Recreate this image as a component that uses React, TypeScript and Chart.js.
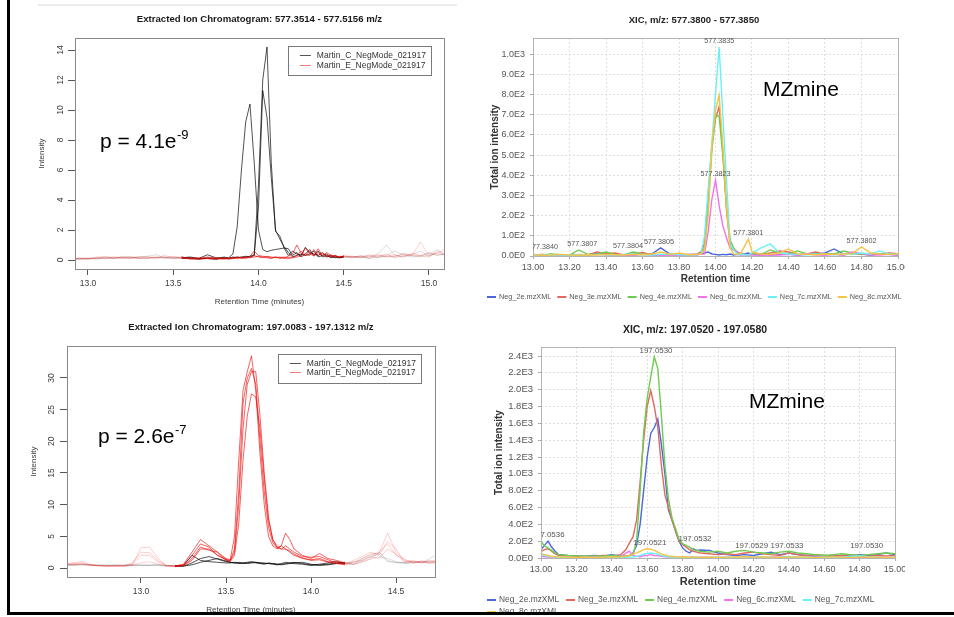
import React, { useEffect, useRef } from "react";
import { Chart, registerables } from "chart.js";

Chart.register(...registerables);

const FONT = "'Liberation Sans', Arial, Helvetica, sans-serif";
Chart.defaults.font.family = FONT;

// ---------------- Top-left: Extracted Ion Chromatogram 577 ----------------
const TL_TITLE = "Extracted Ion Chromatogram: 577.3514 - 577.5156 m/z";
const TL_TIME = [12.90,12.95,13.00,13.05,13.10,13.15,13.20,13.25,13.30,13.35,13.40,13.45,13.50,13.55,13.60,13.65,13.70,13.75,13.80,
  13.825,13.85,13.875,13.90,13.925,13.95,13.975,14.00,14.025,14.05,14.075,14.10,14.125,14.15,14.175,14.20,14.225,14.25,14.275,14.30,14.325,14.35,14.375,14.40,14.425,14.45,14.475,14.50,
  14.55,14.60,14.65,14.70,14.75,14.80,14.85,14.90,14.95,15.00,15.05,15.10];
const TL_C1 = [0.05,0.10,0.05,0.15,0.10,0.20,0.15,0.10,0.20,0.25,0.35,0.15,0.20,0.10,0.15,0.10,0.35,0.15,0.10,
  0.15,0.40,2.2,6.0,9.2,10.4,6.5,2.0,0.7,0.55,0.65,0.70,0.75,0.80,0.75,0.30,0.50,0.20,0.40,0.70,0.30,0.60,0.20,0.30,0.15,0.20,0.15,0.20,
  0.25,0.15,0.20,0.40,1.00,0.30,0.20,0.35,0.60,0.25,0.50,0.30];
const TL_C2 = [0.10,0.05,0.15,0.10,0.20,0.10,0.15,0.20,0.15,0.10,0.20,0.10,0.15,0.20,0.10,0.05,0.15,0.10,0.20,
  0.10,0.15,0.20,0.15,0.20,0.25,0.35,5.0,12.0,14.2,6.5,1.9,1.6,0.8,0.3,0.6,0.4,0.3,0.85,0.5,0.4,0.3,0.5,0.2,0.3,0.15,0.2,0.25,
  0.20,0.25,0.10,0.20,0.30,0.60,0.35,0.20,0.30,0.45,0.30,0.40];
const TL_C3 = [0.05,0.10,0.10,0.05,0.15,0.10,0.20,0.15,0.10,0.20,0.15,0.20,0.10,0.15,0.20,0.10,0.10,0.05,0.15,
  0.10,0.20,0.15,0.20,0.25,0.20,0.30,3.5,11.3,9.5,5.5,2.0,1.4,0.9,0.5,0.2,0.3,0.4,0.3,0.4,0.6,0.2,0.3,0.4,0.2,0.3,0.15,0.2,
  0.15,0.20,0.30,0.15,0.25,0.20,0.45,0.30,0.20,0.35,0.70,0.35];
const TL_E1 = [0.05,0.10,0.05,0.20,0.15,0.10,0.25,0.20,0.10,0.15,0.20,0.15,0.25,0.15,0.10,0.05,0.10,0.05,0.15,
  0.10,0.15,0.10,0.20,0.15,0.25,0.60,0.30,0.25,0.20,0.15,0.20,0.10,0.15,0.25,0.40,1.00,0.45,0.30,0.60,0.25,0.50,0.30,0.20,0.35,0.20,0.25,0.20,
  0.15,0.30,0.20,0.35,0.20,0.25,0.40,0.30,1.20,0.30,0.45,0.80];
const TL_E2 = [0.10,0.05,0.10,0.15,0.25,0.15,0.10,0.20,0.15,0.10,0.15,0.30,0.15,0.10,0.15,0.10,0.20,0.10,0.05,
  0.15,0.10,0.20,0.15,0.10,0.20,0.30,0.20,0.15,0.25,0.20,0.15,0.20,0.10,0.15,0.20,0.30,0.60,0.35,0.30,0.70,0.30,0.45,0.30,0.20,0.30,0.20,0.25,
  0.25,0.15,0.35,0.20,0.40,0.15,0.30,0.35,0.25,0.50,0.35,0.40];
const TL_E3 = [0.05,0.15,0.10,0.10,0.10,0.20,0.15,0.10,0.25,0.20,0.10,0.20,0.10,0.20,0.05,0.15,0.10,0.15,0.10,
  0.05,0.10,0.15,0.10,0.20,0.15,0.20,0.25,0.20,0.15,0.10,0.20,0.15,0.20,0.10,0.15,0.20,0.25,0.80,0.40,0.30,0.75,0.30,0.50,0.30,0.25,0.15,0.30,
  0.20,0.25,0.10,0.30,0.25,0.35,0.20,0.45,0.30,0.20,0.60,0.30];
const TL_XTICKS = [13.0, 13.5, 14.0, 14.5, 15.0];
const TL_YTICKS = [0, 2, 4, 6, 8, 10, 12, 14];
const TL_DARK = [13.55, 14.5];

// ---------------- Bottom-left: Extracted Ion Chromatogram 197 ----------------
const BL_TITLE = "Extracted Ion Chromatogram: 197.0083 - 197.1312 m/z";
const BL_TIME = [12.55,12.60,12.65,12.70,12.75,12.80,12.85,12.90,12.95,13.00,13.05,13.10,13.15,13.20,13.25,13.30,13.35,13.40,13.45,13.50,
  13.525,13.55,13.575,13.60,13.625,13.65,13.675,13.70,13.725,13.75,13.775,13.80,13.825,13.85,13.875,13.90,
  13.95,14.00,14.05,14.10,14.15,14.20,14.25,14.30,14.35,14.40,14.45,14.50,14.55,14.60,14.65,14.70,14.75];
const BL_E1 = [0.7,0.8,1.0,0.6,0.4,0.3,0.3,0.3,0.5,3.2,3.3,1.5,0.4,0.3,0.6,2.5,4.5,3.5,2.5,1.5,
  1.3,5,17,28,31,33.5,28,18,10,5,3.5,3,3.5,5.5,4.5,3,
  2,1.5,2.3,1.5,1.2,0.8,0.9,1.5,2.2,2.3,5.5,2.5,1.2,0.9,1.0,0.7,1.2];
const BL_E2 = [0.6,0.7,0.8,0.5,0.4,0.3,0.3,0.4,0.8,2.5,2.4,1.2,0.4,0.3,0.5,2.0,3.8,3.3,2.0,1.3,
  1.2,3,12,26,30,31.5,29,20,12,6.5,4,3.2,3,3.5,3,2.5,
  1.8,1.7,1.8,1.3,0.8,0.6,1.2,1.8,2.5,2.0,4.2,3.0,1.0,1.2,0.8,1.0,0.9];
const BL_E3 = [0.5,0.6,0.7,0.5,0.3,0.3,0.4,0.3,0.6,2.0,2.0,1.0,0.3,0.3,0.4,1.5,3.3,2.8,2.5,1.2,
  1.1,2.5,10,22,29,31,31,24,15,8,4.5,3.5,3,3,2.5,2,
  1.5,1.3,1.5,1.0,1.0,0.7,0.6,1.0,1.5,2.5,3.8,2.0,1.4,0.8,1.1,0.8,0.7];
const BL_E4 = [0.6,0.5,0.6,0.4,0.4,0.3,0.3,0.3,0.4,0.8,1.0,0.6,0.3,0.2,0.4,1.2,3.0,3.0,2.0,1.4,
  1.0,2,7,17,24,27.5,27,22,14,7.5,4.5,3.2,3.5,3,2.7,2.2,
  1.6,1.2,1.3,0.9,0.7,0.5,0.8,1.2,1.8,1.5,3.0,2.2,0.9,1.0,0.9,1.2,1.0];
const BL_C1 = [0.5,0.5,0.6,0.5,0.4,0.4,0.5,0.4,0.5,0.4,0.5,0.4,0.3,0.3,0.4,2.0,1.2,1.0,0.9,0.8,
  0.8,0.9,0.8,0.7,0.8,0.9,0.8,0.7,0.6,0.8,0.7,0.6,0.7,0.9,0.8,0.7,
  0.6,0.4,0.5,0.6,0.8,0.9,0.5,1.5,2.0,2.5,1.2,0.8,0.9,1.0,0.8,1.5,2.3];
const BL_C2 = [0.4,0.5,0.5,0.4,0.5,0.4,0.4,0.5,0.4,0.5,0.4,0.5,0.4,0.3,0.3,0.8,1.5,1.8,1.4,1.0,
  0.9,0.8,0.7,0.8,0.9,1.0,0.9,0.8,0.7,0.7,0.6,0.5,0.6,0.7,0.8,0.9,
  0.7,0.5,0.6,0.8,1.0,0.7,1.0,1.2,1.8,2.2,1.0,0.9,0.7,0.8,0.9,1.0,1.2];
const BL_C3 = [0.5,0.4,0.5,0.5,0.4,0.5,0.4,0.4,0.5,0.4,0.4,0.5,0.4,0.4,0.3,0.5,0.9,1.2,1.5,1.1,
  0.9,0.8,0.9,0.8,0.7,0.8,0.9,0.8,0.8,0.7,0.7,0.6,0.5,0.6,0.7,0.8,
  0.9,0.6,0.4,0.5,0.7,0.8,0.6,0.9,1.4,1.8,1.5,1.0,0.8,0.9,1.1,0.9,1.0];
const BL_XTICKS = [13.0, 13.5, 14.0, 14.5];
const BL_YTICKS = [0, 5, 10, 15, 20, 25, 30];
const BL_DARK = [13.2, 14.2];

const R_NAME_C = "Martin_C_NegMode_021917";
const R_NAME_E = "Martin_E_NegMode_021917";

// ---------------- Top-right: MZmine XIC 577 ----------------
const TR_TITLE = "XIC, m/z: 577.3800 - 577.3850";
const TR_TIME = [13.00,13.05,13.10,13.15,13.20,13.25,13.30,13.35,13.40,13.45,13.50,13.55,13.60,13.65,13.70,13.75,13.80,13.85,13.90,
  13.92,13.94,13.96,13.98,14.00,14.02,14.04,14.06,14.08,14.10,14.12,14.14,14.16,14.18,14.20,
  14.25,14.30,14.35,14.40,14.45,14.50,14.55,14.60,14.65,14.70,14.75,14.80,14.85,14.90,14.95,15.00];
const TR_2E = [5,3,8,4,6,3,5,15,10,4,6,5,8,10,40,10,5,8,6, 10,15,20,10,8,5,8,6,10,5,8,6,10,15,8, 10,5,8,10,5,8,10,15,35,10,15,10,5,10,8,5];
const TR_3E = [5,8,4,6,3,8,5,20,12,15,5,10,18,6,5,8,4,6,10, 20,60,300,540,680,740,520,230,60,30,20,10,8,5,10, 6,15,25,20,8,10,20,8,10,5,12,8,6,10,15,12];
const TR_4E = [8,5,10,6,4,30,8,10,20,8,6,20,10,5,8,6,10,5,8, 10,40,250,520,700,690,500,250,80,40,15,10,8,5,10, 8,30,15,10,25,10,8,12,10,25,15,10,8,12,10,8];
const TR_6C = [3,5,4,6,3,5,4,8,5,6,4,5,8,5,4,5,6,4,8, 8,10,120,280,376,250,150,90,40,30,20,6,5,8,5, 4,6,5,8,5,10,6,4,8,5,20,12,6,5,8,5];
const TR_7C = [5,4,6,5,4,6,5,8,6,5,8,10,6,5,8,10,6,5,8, 10,100,330,560,800,1035,700,380,60,30,10,8,6,5,15, 40,60,15,10,8,6,10,8,6,10,8,15,10,25,10,8];
const TR_8C = [6,4,5,8,5,4,6,5,8,6,5,8,6,10,20,8,15,6,8, 10,30,200,550,720,797,550,250,40,10,8,15,50,85,20, 10,8,15,35,10,8,6,10,8,10,12,45,15,10,8,10];
const TR_LABEL_X = [13.055, 13.27, 13.52, 13.69, 14.02, 14.00, 14.18, 14.80];
const TR_LABEL_Y = [15, 30, 20, 40, 1035, 376, 85, 45];
const TR_LABEL_T = ["577.3840", "577.3807", "577.3804", "577.3805", "577.3835", "577.3823", "577.3801", "577.3802"];
const TR_YTICKS = [0, 100, 200, 300, 400, 500, 600, 700, 800, 900, 1000];

// ---------------- Bottom-right: MZmine XIC 197 ----------------
const BR_TITLE = "XIC, m/z: 197.0520 - 197.0580";
const BR_TIME = [13.00,13.02,13.04,13.06,13.08,13.10,13.15,13.20,13.25,13.30,13.35,13.40,13.45,
  13.48,13.50,13.52,13.54,13.56,13.58,13.60,13.62,13.64,13.66,13.68,13.70,13.72,13.74,13.76,13.78,13.80,13.82,13.84,13.86,13.88,13.90,
  13.95,14.00,14.05,14.10,14.15,14.20,14.25,14.30,14.35,14.40,14.45,14.50,14.55,14.60,14.65,14.70,14.75,14.80,14.85,14.90,14.95,15.00];
const BR_2E = [100,150,200,130,80,40,30,25,20,30,25,40,20,
  20,30,60,150,400,800,1200,1480,1550,1650,1350,1000,570,450,320,200,120,80,60,110,90,95,
  90,60,40,30,40,30,50,70,40,60,40,30,20,30,20,30,25,40,30,40,60,40];
const BR_3E = [80,100,110,80,50,30,20,25,15,20,30,25,40,
  100,180,250,450,900,1400,1800,1990,1800,1550,1100,750,600,450,320,200,160,130,100,80,70,60,
  50,40,50,40,60,70,50,40,30,60,40,30,40,30,20,30,40,30,20,30,25,30];
const BR_4E = [200,140,120,90,60,40,30,25,20,25,20,30,20,
  20,25,40,200,800,1500,1900,2150,2390,2250,1700,1100,700,480,350,220,170,150,130,100,90,80,
  70,80,60,80,90,70,60,50,70,80,60,50,40,30,40,50,40,30,40,50,60,50];
const BR_6C = [20,15,10,15,10,8,10,5,8,10,5,8,10,
  60,80,30,20,15,25,30,40,30,25,20,15,10,10,8,10,12,10,8,10,8,10,
  10,8,10,5,8,10,8,12,10,8,6,8,10,8,6,8,10,8,6,8,10,8];
const BR_7C = [40,30,20,15,10,8,10,5,8,6,8,5,6,
  8,10,12,20,30,45,55,60,55,45,30,20,15,10,8,10,8,6,8,10,8,6,
  8,10,8,6,8,10,12,8,10,15,8,10,6,8,10,8,20,25,15,10,8,6];
const BR_8C = [50,40,30,20,15,10,12,8,10,8,10,12,15,
  20,30,45,60,80,100,110,105,90,70,50,35,25,20,15,12,15,12,10,12,10,8,
  10,8,10,12,15,10,12,10,8,10,12,10,8,10,12,10,8,10,12,10,8,10];
const BR_LABEL_X = [13.04, 13.65, 13.615, 13.87, 14.19, 14.39, 14.84];
const BR_LABEL_Y = [200, 2390, 110, 150, 75, 75, 75];
const BR_LABEL_T = ["197.0536", "197.0530", "197.0521", "197.0532", "197.0529", "197.0533", "197.0530"];
const BR_YTICKS = [0, 200, 400, 600, 800, 1000, 1200, 1400, 1600, 1800, 2000, 2200, 2400];

const MZ_XTICKS = [13.0, 13.2, 13.4, 13.6, 13.8, 14.0, 14.2, 14.4, 14.6, 14.8, 15.0];
const MZ_NAMES = ["Neg_2e.mzXML", "Neg_3e.mzXML", "Neg_4e.mzXML", "Neg_6c.mzXML", "Neg_7c.mzXML", "Neg_8c.mzXML"];
const MZ_COLORS = ["#4a68dc", "#e06a60", "#70cc50", "#f272f0", "#6cf0f6", "#f6c444"];

// ---------------- helpers ----------------
const fixSize = (size: number) => (s: any) => {
  if (s.isHorizontal()) s.height = size; else s.width = size;
  s.paddingLeft = 0; s.paddingRight = 0; s.paddingTop = 0; s.paddingBottom = 0;
};
const setTicks = (vals: number[]) => (s: any) => { s.ticks = vals.map((v) => ({ value: v })); };

const mzFmtY = (v: number) => {
  if (v === 0) return "0.0E0";
  const e = Math.floor(Math.log10(v) + 1e-9);
  return (v / Math.pow(10, e)).toFixed(1) + "E" + e;
};

function rDataset(time: number[], vals: number[], grp: "C" | "E", dark: number[]) {
  const darkCol = grp === "C" ? "rgba(0,0,0,0.68)" : "rgba(235,0,0,0.62)";
  const lightCol = grp === "C" ? "rgba(0,0,0,0.14)" : "rgba(255,0,0,0.2)";
  return {
    label: grp === "C" ? R_NAME_C : R_NAME_E,
    data: time.map((x, i) => ({ x, y: vals[i] })),
    borderColor: darkCol,
    legendColor: grp === "C" ? "#555" : "#f07a7a",
    borderWidth: 1,
    pointRadius: 0,
    tension: 0,
    order: grp === "C" ? 1 : 0,
    segment: {
      borderColor: (c: any) => (c.p0.parsed.x >= dark[0] && c.p1.parsed.x <= dark[1] ? darkCol : lightCol),
    },
  };
}

function rConfig(p: any) {
  const deco = {
    id: "rdeco",
    afterDraw(chart: any) {
      const { ctx, chartArea: a } = chart;
      ctx.save();
      ctx.strokeStyle = "#8a8a8a";
      ctx.lineWidth = 1;
      ctx.strokeRect(Math.round(a.left) + 0.5, Math.round(a.top) + 0.5, Math.round(a.right - a.left), Math.round(a.bottom - a.top));
      // title
      ctx.fillStyle = "#1a1a1a";
      ctx.font = `bold 9.6px ${FONT}`;
      ctx.textAlign = "center";
      ctx.textBaseline = "middle";
      ctx.fillText(p.title, (a.left + a.right) / 2, p.titleY);
      // legend
      const seen: any[] = [];
      chart.data.datasets.forEach((d: any) => {
        if (!seen.find((s) => s.label === d.label)) seen.push({ label: d.label, color: d.legendColor });
      });
      ctx.font = `8.5px ${FONT}`;
      const tw = Math.max(...seen.map((s) => ctx.measureText(s.label).width));
      const bw = 12 + 11 + 6 + tw + 5;
      const bx = a.right - p.legendGap - bw;
      const by = a.top + 8;
      ctx.strokeStyle = "#7a7a7a";
      ctx.strokeRect(Math.round(bx) + 0.5, Math.round(by) + 0.5, Math.round(bw), 29);
      ctx.textAlign = "left";
      seen.forEach((s, i) => {
        const yy = by + 9.5 + i * p.rowGap;
        ctx.strokeStyle = s.color;
        ctx.beginPath();
        ctx.moveTo(bx + 12, yy);
        ctx.lineTo(bx + 23, yy);
        ctx.stroke();
        ctx.fillStyle = "#333";
        ctx.fillText(s.label, bx + 29, yy);
      });
      // p-value annotation
      ctx.fillStyle = "#000";
      ctx.font = `21px ${FONT}`;
      ctx.textBaseline = "alphabetic";
      ctx.fillText(p.pMain, p.pX, p.pY);
      const w = ctx.measureText(p.pMain).width;
      ctx.font = `13px ${FONT}`;
      ctx.fillText(p.pSup, p.pX + w + 0.5, p.pY - 9);
      ctx.restore();
    },
  };
  return {
    type: "line",
    data: { datasets: p.datasets },
    options: {
      responsive: false,
      animation: false,
      events: [],
      layout: { padding: { left: 0, right: p.padRight, top: p.padTop, bottom: 0 } },
      plugins: { legend: { display: false }, tooltip: { enabled: false }, title: { display: false } },
      scales: {
        x: {
          type: "linear",
          min: p.xmin,
          max: p.xmax,
          afterBuildTicks: setTicks(p.xticks),
          afterFit: fixSize(p.xHeight),
          ticks: { autoSkip: false, maxRotation: 0, minRotation: 0, font: { size: 8.5 }, color: "#3a3a3a", padding: 4, callback: (v: any) => Number(v).toFixed(1) },
          grid: { display: true, drawOnChartArea: false, drawTicks: true, tickLength: 6, color: "#555" },
          border: { display: false },
          title: { display: true, text: "Retention Time (minutes)", font: { size: 8 }, color: "#3a3a3a", padding: { top: 0, bottom: p.xTitlePad } },
        },
        y: {
          type: "linear",
          min: p.ymin,
          max: p.ymax,
          afterBuildTicks: setTicks(p.yticks),
          afterFit: fixSize(p.yWidth),
          ticks: { autoSkip: false, minRotation: 90, maxRotation: 90, crossAlign: "center", font: { size: 8.5 }, color: "#3a3a3a", padding: p.yTickPad },
          grid: { display: true, drawOnChartArea: false, drawTicks: true, tickLength: 7, color: "#555" },
          border: { display: false },
          title: { display: true, text: "Intensity", font: { size: 8 }, color: "#3a3a3a", padding: { top: p.yTitlePad, bottom: 0 } },
        },
      },
    },
    plugins: [deco],
  };
}

function mzConfig(p: any) {
  const datasets = p.series.map((vals: number[], i: number) => ({
    label: MZ_NAMES[i],
    data: p.time.map((x: number, j: number) => ({ x, y: vals[j] })),
    borderColor: MZ_COLORS[i],
    backgroundColor: MZ_COLORS[i],
    borderWidth: 1.4,
    pointRadius: 0,
    tension: 0,
    order: p.series.length - 1 - i,
  }));
  const deco = {
    id: "mzdeco",
    afterDraw(chart: any) {
      const { ctx, chartArea: a, scales } = chart;
      ctx.save();
      ctx.strokeStyle = "#b4b4b4";
      ctx.lineWidth = 1;
      ctx.strokeRect(Math.round(a.left) + 0.5, Math.round(a.top) + 0.5, Math.round(a.right - a.left), Math.round(a.bottom - a.top));
      // peak m/z labels
      ctx.save();
      ctx.beginPath();
      ctx.rect(a.left, a.top - 12, a.right - a.left, a.bottom - a.top + 12);
      ctx.clip();
      ctx.font = `${p.labelSize}px ${FONT}`;
      ctx.fillStyle = "#555";
      ctx.textAlign = "center";
      ctx.textBaseline = "alphabetic";
      p.labelX.forEach((lx: number, i: number) => {
        const px = scales.x.getPixelForValue(lx);
        const py = scales.y.getPixelForValue(p.labelY[i]);
        ctx.fillText(p.labelT[i], px, py - 4);
      });
      ctx.restore();
      // title
      ctx.fillStyle = "#222";
      ctx.font = `bold ${p.titleSize}px ${FONT}`;
      ctx.textAlign = "center";
      ctx.textBaseline = "middle";
      ctx.fillText(p.title, p.titleX, p.titleY);
      // MZmine annotation
      ctx.fillStyle = "#000";
      ctx.font = `21px ${FONT}`;
      ctx.textAlign = "left";
      ctx.fillText("MZmine", p.mzX, p.mzY);
      // legend
      ctx.font = `${p.legendSize}px ${FONT}`;
      ctx.textBaseline = "middle";
      let lx = p.legendX;
      let ly = p.legendY;
      chart.data.datasets.forEach((d: any) => {
        const w = 12 + ctx.measureText(d.label).width + p.legendGap;
        if (lx + w > p.legendMax) { lx = p.legendX; ly += p.legendRow; }
        ctx.strokeStyle = d.borderColor;
        ctx.lineWidth = 2;
        ctx.beginPath();
        ctx.moveTo(lx, ly);
        ctx.lineTo(lx + 9, ly);
        ctx.stroke();
        ctx.fillStyle = "#555";
        ctx.fillText(d.label, lx + 12, ly);
        lx += w;
      });
      ctx.restore();
    },
  };
  return {
    type: "line",
    data: { datasets },
    options: {
      responsive: false,
      animation: false,
      events: [],
      layout: { padding: { left: 0, right: p.padRight, top: p.padTop, bottom: 0 } },
      plugins: { legend: { display: false }, tooltip: { enabled: false }, title: { display: false } },
      scales: {
        x: {
          type: "linear",
          min: 13,
          max: 15,
          afterBuildTicks: setTicks(MZ_XTICKS),
          afterFit: fixSize(p.xHeight),
          ticks: { autoSkip: false, maxRotation: 0, minRotation: 0, font: { size: p.xTickSize }, color: "#555", padding: 3, callback: (v: any) => Number(v).toFixed(2) },
          grid: { display: true, drawOnChartArea: true, drawTicks: true, tickLength: 3, color: "#dedede", tickColor: "#aaa", borderDash: [2, 2] },
          border: { display: false, dash: [2, 2] },
          title: { display: true, text: "Retention time", font: { size: p.xTitleSize, weight: "bold" }, color: "#333", padding: { top: 0, bottom: p.xTitlePad } },
        },
        y: {
          type: "linear",
          min: 0,
          max: p.ymax,
          afterBuildTicks: setTicks(p.yticks),
          afterFit: fixSize(p.yWidth),
          ticks: { autoSkip: false, font: { size: p.yTickSize }, color: "#555", padding: 5, callback: (v: any) => mzFmtY(Number(v)) },
          grid: { display: true, drawOnChartArea: true, drawTicks: true, tickLength: 3, color: "#dedede", tickColor: "#aaa", borderDash: [2, 2] },
          border: { display: false, dash: [2, 2] },
          title: { display: true, text: "Total ion intensity", font: { size: 10, weight: "bold" }, color: "#333", padding: { top: p.yTitlePad, bottom: 0 } },
        },
      },
    },
    plugins: [deco],
  };
}

function ChartBox({ left, top, width, height, make }: any) {
  const ref = useRef<HTMLCanvasElement>(null);
  useEffect(() => {
    const chart = new Chart(ref.current as HTMLCanvasElement, make());
    return () => chart.destroy();
  }, []);
  return <canvas ref={ref} width={width} height={height} style={{ position: "absolute", left, top, width, height }} />;
}

const makeTL = () =>
  rConfig({
    datasets: [
      rDataset(TL_TIME, TL_C1, "C", TL_DARK),
      rDataset(TL_TIME, TL_C2, "C", TL_DARK),
      rDataset(TL_TIME, TL_C3, "C", TL_DARK),
      rDataset(TL_TIME, TL_E1, "E", TL_DARK),
      rDataset(TL_TIME, TL_E2, "E", TL_DARK),
      rDataset(TL_TIME, TL_E3, "E", TL_DARK),
    ],
    title: TL_TITLE, titleY: 19,
    xmin: 12.924, xmax: 15.088, ymin: -0.6, ymax: 14.8,
    xticks: TL_XTICKS, yticks: TL_YTICKS,
    padRight: 16, padTop: 38, xHeight: 41, yWidth: 63,
    yTickPad: 3, yTitlePad: 25, xTitlePad: 3,
    legendGap: 13, rowGap: 10,
    pMain: "p = 4.1e", pSup: "-9", pX: 88, pY: 148,
  });

const makeBL = () =>
  rConfig({
    datasets: [
      rDataset(BL_TIME, BL_C1, "C", BL_DARK),
      rDataset(BL_TIME, BL_C2, "C", BL_DARK),
      rDataset(BL_TIME, BL_C3, "C", BL_DARK),
      rDataset(BL_TIME, BL_E1, "E", BL_DARK),
      rDataset(BL_TIME, BL_E2, "E", BL_DARK),
      rDataset(BL_TIME, BL_E3, "E", BL_DARK),
      rDataset(BL_TIME, BL_E4, "E", BL_DARK),
    ],
    title: BL_TITLE, titleY: 17,
    xmin: 12.565, xmax: 14.729, ymin: -1.42, ymax: 35.05,
    xticks: BL_XTICKS, yticks: BL_YTICKS,
    padRight: 25, padTop: 36, xHeight: 43, yWidth: 55,
    yTickPad: 4, yTitlePad: 17, xTitlePad: 5,
    legendGap: 14, rowGap: 9,
    pMain: "p = 2.6e", pSup: "-7", pX: 86, pY: 133,
  });

const makeTR = () =>
  mzConfig({
    time: TR_TIME, series: [TR_2E, TR_3E, TR_4E, TR_6C, TR_7C, TR_8C],
    ymax: 1080, yticks: TR_YTICKS,
    padRight: 7, padTop: 38, xHeight: 54, yWidth: 63,
    xTickSize: 9, yTickSize: 9, xTitleSize: 10, xTitlePad: 25, yTitlePad: 19,
    labelX: TR_LABEL_X, labelY: TR_LABEL_Y, labelT: TR_LABEL_T, labelSize: 7.2,
    title: TR_TITLE, titleX: 224, titleY: 20, titleSize: 9.5,
    mzX: 293, mzY: 90,
    legendX: 17, legendY: 297, legendRow: 12, legendMax: 445, legendSize: 7.3, legendGap: 6,
  });

const makeBR = () =>
  mzConfig({
    time: BR_TIME, series: [BR_2E, BR_3E, BR_4E, BR_6C, BR_7C, BR_8C],
    ymax: 2507, yticks: BR_YTICKS,
    padRight: 10, padTop: 37, xHeight: 62, yWidth: 71,
    xTickSize: 9, yTickSize: 9.5, xTitleSize: 11, xTitlePad: 31, yTitlePad: 23,
    labelX: BR_LABEL_X, labelY: BR_LABEL_Y, labelT: BR_LABEL_T, labelSize: 7.9,
    title: BR_TITLE, titleX: 225, titleY: 20, titleSize: 10.5,
    mzX: 279, mzY: 92,
    legendX: 17, legendY: 290, legendRow: 12, legendMax: 420, legendSize: 8.4, legendGap: 7,
  });

export default function App() {
  return (
    <div style={{ position: "absolute", left: 0, top: 0, width: 954, height: 617, background: "#fff", overflow: "hidden" }}>
      <ChartBox left={12} top={0} width={448} height={310} make={makeTL} />
      <ChartBox left={470} top={0} width={435} height={310} make={makeTR} />
      <ChartBox left={12} top={310} width={448} height={310} make={makeBL} />
      <ChartBox left={470} top={310} width={435} height={310} make={makeBR} />
      <div style={{ position: "absolute", left: 38, top: 4, width: 419, height: 2, background: "#ebebeb" }} />
      <div style={{ position: "absolute", left: 7, top: 0, width: 3, height: 615, background: "#000" }} />
      <div style={{ position: "absolute", left: 7, top: 612, width: 947, height: 3, background: "#000" }} />
      <div style={{ position: "absolute", left: 0, top: 615, width: 954, height: 2, background: "#fff" }} />
    </div>
  );
}
